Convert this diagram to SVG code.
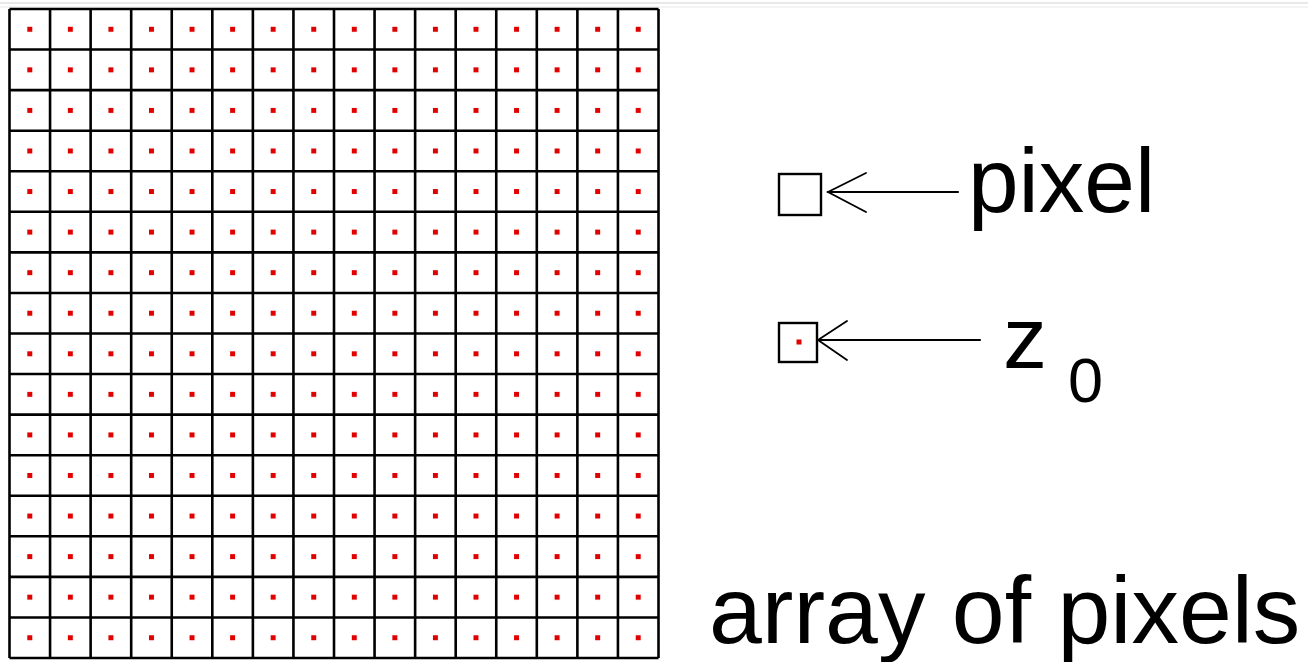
<svg xmlns="http://www.w3.org/2000/svg" width="1308" height="662" viewBox="0 0 1308 662">
  <style>
    .grid { stroke: #000; stroke-width: 2.6; fill: none; }
    .box { stroke: #000; stroke-width: 2.4; fill: #fff; }
    .conn { stroke: #000; stroke-width: 2.2; fill: none; stroke-linecap: round; }
    .head { stroke: #000; stroke-width: 1.8; fill: none; stroke-linecap: round; }
    .lbl { font-family: "Liberation Sans", Arial, sans-serif; fill: #000; }
    .dot { fill: #e00000; }
  </style>
  <defs>
    <pattern id="dots" patternUnits="userSpaceOnUse" x="9.5" y="9" width="40.5625" height="40.5625">
      <rect class="dot" x="17.8" y="17.8" width="5" height="5"/>
    </pattern>
  </defs>
  <rect width="1308" height="662" fill="#fff"/>
  <line x1="0" y1="3" x2="1308" y2="3" stroke="#d0d0d0" stroke-width="1"/>
  <line x1="0" y1="7" x2="1308" y2="7" stroke="#e8e8e8" stroke-width="1"/>

  <g id="pixel-array">
    <rect x="9.5" y="9" width="649" height="649" fill="url(#dots)"/>
    <path class="grid" d="M9.5 9V658M50.06 9V658M90.63 9V658M131.19 9V658M171.75 9V658M212.31 9V658M252.88 9V658M293.44 9V658M334 9V658M374.56 9V658M415.13 9V658M455.69 9V658M496.25 9V658M536.81 9V658M577.38 9V658M617.94 9V658M658.5 9V658
M9.5 9H658.5M9.5 49.56H658.5M9.5 90.13H658.5M9.5 130.69H658.5M9.5 171.25H658.5M9.5 211.81H658.5M9.5 252.38H658.5M9.5 292.94H658.5M9.5 333.5H658.5M9.5 374.06H658.5M9.5 414.63H658.5M9.5 455.19H658.5M9.5 495.75H658.5M9.5 536.31H658.5M9.5 576.88H658.5M9.5 617.44H658.5M9.5 658H658.5"/>
  </g>

  <g id="pixel-node">
    <rect class="box" x="779" y="174" width="42" height="41"/>
  </g>
  <g id="z0-node">
    <rect class="box" x="779" y="323" width="38" height="39"/>
    <rect class="dot" x="796.5" y="339.5" width="5" height="5"/>
  </g>

  <g id="connectors">
    <line class="conn" x1="958" y1="192" x2="828" y2="192"/>
    <path class="head" d="M866 173L828 192L866 212"/>
    <line class="conn" x1="980" y1="340" x2="818" y2="340"/>
    <path class="head" d="M847 321L818 340L847 360"/>
  </g>

  <g id="label-pixel">
    <text class="lbl" x="968" y="212" font-size="91">pixel</text>
  </g>
  <g id="label-z0">
    <text class="lbl" x="1003" y="368" font-size="88">z</text>
    <text class="lbl" x="1068" y="402" font-size="63">0</text>
  </g>
  <g id="label-array">
    <text class="lbl" x="709" y="643" font-size="95">array of pixels</text>
  </g>
</svg>
